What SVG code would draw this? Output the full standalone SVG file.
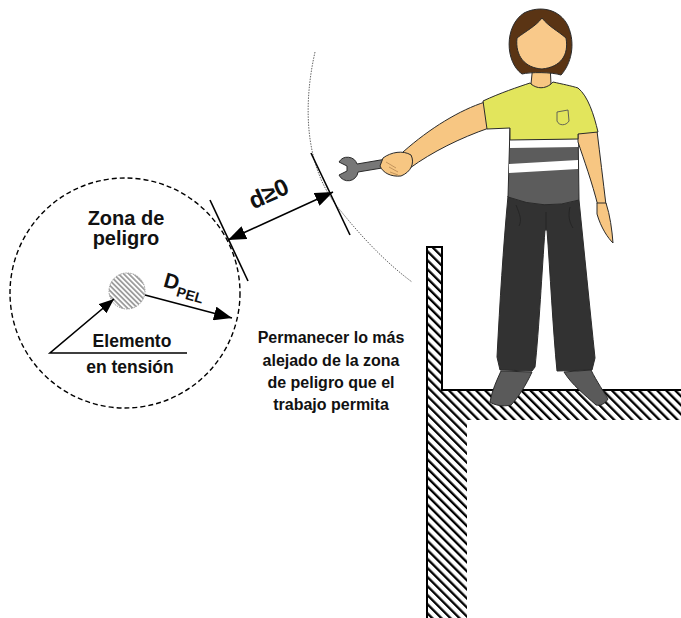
<svg xmlns="http://www.w3.org/2000/svg" width="681" height="618" viewBox="0 0 681 618">
  <defs>
    <pattern id="hatchWall" patternUnits="userSpaceOnUse" width="6.4" height="6.4" patternTransform="rotate(-45)">
      <line x1="3" y1="0" x2="3" y2="6.4" stroke="#000" stroke-width="2.3"/>
    </pattern>
    <pattern id="hatchElem" patternUnits="userSpaceOnUse" width="3.6" height="3.6" patternTransform="rotate(-45)">
      <line x1="1.8" y1="0" x2="1.8" y2="3.6" stroke="#777" stroke-width="1.3"/>
    </pattern>
    <marker id="arrow" markerUnits="userSpaceOnUse" viewBox="0 0 18 14" refX="18" refY="7" markerWidth="18" markerHeight="14" orient="auto-start-reverse">
      <path d="M0,0 L18,7 L0,14 Z" fill="#000"/>
    </marker>
    <marker id="arrowSm" markerUnits="userSpaceOnUse" viewBox="0 0 15 12" refX="15" refY="6" markerWidth="15" markerHeight="12" orient="auto">
      <path d="M0,0 L15,6 L0,12 Z" fill="#000"/>
    </marker>
  </defs>
  <style>
    .lbl { font-family: "Liberation Sans", Arial, sans-serif; font-weight: bold; fill: #111; text-anchor: middle; }
    .line { stroke: #000; stroke-width: 1.6; fill: none; }
    .out { stroke: #2a2a2a; stroke-width: 1; stroke-linejoin: round; }
    .skin { fill: #f7c682; }
  </style>

  <rect width="681" height="618" fill="#fff"/>

  <!-- danger zone around the live element -->
  <g id="zona-peligro">
    <circle cx="125" cy="293" r="115" fill="none" stroke="#000" stroke-width="1.4" stroke-dasharray="5 3"/>
    <text class="lbl" x="126" y="225" font-size="20">Zona de</text>
    <text class="lbl" x="126" y="245" font-size="20">peligro</text>
  </g>

  <g id="elemento">
    <circle cx="127" cy="291" r="18" fill="url(#hatchElem)" stroke="#999" stroke-width="1" stroke-dasharray="1.5 1"/>
    <text class="lbl" x="132" y="347" font-size="17.5">Elemento</text>
    <text class="lbl" x="130" y="373" font-size="17.5">en tensión</text>
  </g>

  <!-- reach of the worker's arm -->
  <path id="alcance" d="M315,52 C302,110 306,170 340,210 C360,235 385,262 412,282" fill="none" stroke="#666" stroke-width="1" stroke-dasharray="1.5 1.2"/>

  <g id="conectores">
    <polyline class="line" points="187,353 50,353 114,299" marker-end="url(#arrowSm)"/>
    <line class="line" x1="145" y1="295" x2="232" y2="318" marker-end="url(#arrow)"/>
    <!-- d >= 0 dimension -->
    <line class="line" x1="210" y1="200" x2="248" y2="281"/>
    <line class="line" x1="311" y1="153" x2="350" y2="235"/>
    <line class="line" x1="228" y1="240" x2="333" y2="192" marker-start="url(#arrow)" marker-end="url(#arrow)"/>
  </g>

  <g id="etiquetas">
    <text class="lbl" transform="translate(183,292) rotate(16)" font-size="21" text-anchor="middle">D<tspan font-size="14" dy="6">PEL</tspan></text>
    <text class="lbl" transform="translate(272,201) rotate(-24)" font-size="24">d≥0</text>
    <text class="lbl" font-size="16" x="331" y="343">Permanecer lo más</text>
    <text class="lbl" font-size="16" x="331" y="366">alejado de la zona</text>
    <text class="lbl" font-size="16" x="331" y="388">de peligro que el</text>
    <text class="lbl" font-size="16" x="331" y="410">trabajo permita</text>
  </g>

  <!-- wall and floor section -->
  <g id="muro">
    <path d="M427,247 L442,247 L442,390 L681,390 L681,420 L467,420 L467,618 L427,618 Z" fill="url(#hatchWall)"/>
    <path d="M427,618 L427,247 L442,247 L442,390 L681,390" fill="none" stroke="#000" stroke-width="2"/>
  </g>

  <!-- worker -->
  <g id="trabajador">
    <!-- pants -->
    <path class="out" fill="#323232" d="M508,196 L579,200 C584,250 590,310 595,358 L592,370 L557,371 C553,330 550,270 547,230 L545,230 C542,270 539,330 535,367 L532,371 L500,370 L497,357 C500,300 503,250 508,196 Z"/>
    <path d="M546,212 L546,229 M516,205 C520,215 522,220 519,226 M570,207 C568,215 569,222 573,228" fill="none" stroke="#222" stroke-width="0.8"/>
    <!-- shoes -->
    <path class="out" fill="#5a5a5a" d="M501,371 L532,372 C526,385 518,398 511,405 C503,407 494,405 490,402 C492,390 497,380 501,371 Z"/>
    <path class="out" fill="#5a5a5a" d="M564,372 L591,370 C597,382 604,392 608,399 C605,404 600,406 596,405 C585,395 572,385 564,372 Z"/>
    <!-- torso -->
    <path class="out" fill="#5c5c5c" d="M510,127 L578,127 L579,200 Q545,211 508,197 Z"/>
    <polygon fill="#fff" points="510,140 578,139 578,147 510,148"/>
    <polygon fill="#fff" points="509,164 578,160 578,169 509,173"/>
    <!-- hanging arm -->
    <path class="out skin" d="M578,132 L597,131 C600,155 603,180 606,205 L598,206 C592,182 584,160 578,142 Z"/>
    <path class="out skin" d="M597,203 L606,203 C610,215 612,230 613,243 C608,238 601,228 597,214 Z"/>
    <!-- extended arm -->
    <path class="out skin" d="M485,102 C460,110 430,128 403,152 L410,168 C432,152 460,138 489,128 Z"/>
    <!-- wrench -->
    <path class="out" fill="#777" stroke="#555" d="M339,162 A10 10 0 0 1 357,164 L398,157 L400,165 L358,172 A10 10 0 0 1 339,175 L347,171 L347,166 Z"/>
    <!-- hand -->
    <path class="out skin" d="M383,158 C391,152 403,150 411,155 C415,163 411,172 401,176 C391,177 383,173 380,166 Z"/>
    <path d="M386,162 L396,168 M389,167 L398,172 M390,172 L398,175" stroke="#b58652" stroke-width="0.8" fill="none"/>
    <!-- shirt -->
    <path class="out" fill="#e2e55c" d="M483,101 C500,93 518,87 530,83 C536,88 548,88 553,82 C562,84 572,86 578,88 C588,96 594,115 598,132 L578,134 L578,139 L510,140 L510,128 L487,129 Z"/>
    <path d="M557,112 L568,110 L569,121 C566,126 559,126 557,121 Z" fill="none" stroke="#555" stroke-width="0.9"/>
    <!-- neck and head -->
    <path class="out skin" d="M533,64 L550,64 L551,84 C545,89 537,89 531,84 Z"/>
    <path class="out" fill="#5a3414" d="M522,74 C505,62 504,26 524,13 C540,5 560,9 568,26 C576,44 571,64 561,75 C552,72 530,72 522,74 Z"/>
    <path class="out" fill="#f9c98a" d="M517,38 C526,31 536,26 542,18 C548,26 558,31 566,38 C569,55 561,67 542,69 C525,68 515,56 517,38 Z"/>
  </g>
</svg>
